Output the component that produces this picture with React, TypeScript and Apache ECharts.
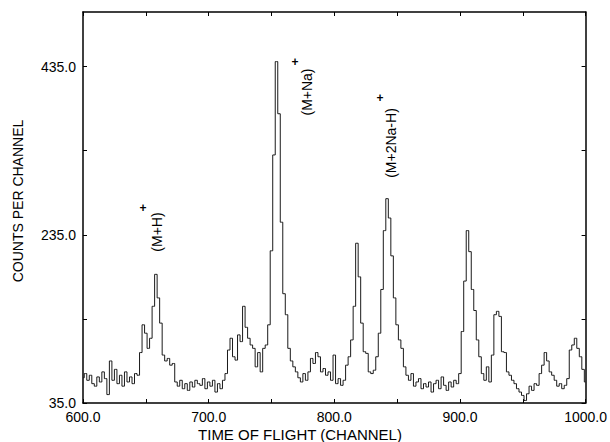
import React, { useEffect, useRef } from "react";
import * as echarts from "echarts";

// Time-of-flight channels, every 2nd channel from 600 to 1000
const START_CHANNEL = 600;
const CHANNEL_STEP = 2;
const counts: number[] = [
  65, 70, 62, 68, 58, 55, 66, 60, 72, 64,
  45, 85, 62, 75, 58, 68, 55, 72, 60, 66,
  58, 70, 68, 95, 128, 118, 100, 112, 150, 188,
  160, 130, 92, 85, 88, 80, 82, 60, 55, 62,
  52, 58, 50, 60, 54, 62, 58, 56, 64, 52,
  60, 55, 62, 48, 58, 52, 62, 70, 98, 112,
  90, 86, 116, 108, 150, 125, 112, 104, 100, 78,
  95, 72, 100, 104, 128, 216, 330, 441, 379, 250,
  165, 140, 100, 85, 78, 72, 65, 60, 70, 62,
  72, 88, 82, 95, 90, 72, 76, 68, 72, 62,
  92, 58, 64, 56, 62, 80, 90, 110, 150, 225,
  185, 130, 96, 94, 72, 70, 74, 90, 118, 170,
  240, 278, 255, 210, 160, 128, 110, 100, 78, 68,
  62, 70, 55, 60, 64, 52, 58, 54, 60, 48,
  58, 62, 52, 66, 56, 50, 60, 54, 62, 58,
  70, 120, 180, 240, 215, 170, 145, 110, 90, 70,
  62, 78, 60, 92, 140, 144, 138, 96, 95, 72,
  68, 62, 58, 52, 48, 44, 38, 46, 55, 50,
  58, 56, 70, 80, 95, 85, 72, 68, 62, 55,
  58, 52, 56, 64, 98, 104, 112, 100, 90, 75,
  60,
];

const yTickValues = [35, 135, 235, 335, 435];
const yLabelValues = [35, 235, 435];
const xMin = 600;
const xMax = 1000;
const xTickInterval = 50;
const yMin = 35;
const yMax = 500;

const xTitle = "TIME OF FLIGHT (CHANNEL)";
const yTitle = "COUNTS PER CHANNEL";
const peakLabels = ["(M+H)", "(M+Na)", "(M+2Na-H)"];

const FONT = "'Liberation Sans', Arial, Helvetica, sans-serif";

export default function App() {
  const ref = useRef<HTMLDivElement>(null);

  useEffect(() => {
    if (!ref.current) return;
    const chart = echarts.init(ref.current, undefined, { renderer: "svg" });
    const data = counts.map((c, i) => [START_CHANNEL + i * CHANNEL_STEP, c]);

    const axisLine = { show: true, lineStyle: { color: "#000", width: 1.5 } };
    const tick = { show: true, inside: true, length: 4, lineStyle: { color: "#000", width: 1 } };
    const label = { color: "#000", fontSize: 14, fontFamily: FONT };

    const xCommon = {
      type: "value" as const,
      min: xMin,
      max: xMax,
      interval: xTickInterval,
      axisLine,
      axisTick: tick,
      splitLine: { show: false },
    };
    const yCommon = {
      type: "value" as const,
      min: yMin,
      max: yMax,
      axisLine,
      axisTick: { ...tick, customValues: yTickValues },
      splitLine: { show: false },
    };

    const annText = (text: string, x: number, y: number) => ({
      type: "text",
      x,
      y,
      rotation: Math.PI / 2,
      style: {
        text,
        fill: "#000",
        font: `14px ${FONT}`,
        align: "center",
        verticalAlign: "middle",
      },
    });
    const plus = (x: number, y: number) => ({
      type: "text",
      x,
      y,
      style: {
        text: "+",
        fill: "#000",
        font: `bold 12px ${FONT}`,
        align: "center",
        verticalAlign: "middle",
      },
    });

    chart.setOption({
      animation: false,
      backgroundColor: "#fff",
      grid: { left: 83, right: 24, top: 12, bottom: 39, containLabel: false },
      xAxis: [
        {
          ...xCommon,
          position: "bottom",
          axisLabel: {
            ...label,
            margin: 7,
            formatter: (v: number) => (v % 100 === 0 ? v.toFixed(1) : ""),
          },
        },
        { ...xCommon, position: "top", axisLabel: { show: false } },
      ],
      yAxis: [
        {
          ...yCommon,
          position: "left",
          axisLabel: {
            ...label,
            margin: 7,
            customValues: yLabelValues,
            formatter: (v: number) => v.toFixed(1),
          },
        },
        { ...yCommon, position: "right", axisLabel: { show: false } },
      ],
      series: [
        {
          type: "line",
          xAxisIndex: 0,
          yAxisIndex: 0,
          step: "middle",
          data,
          symbol: "none",
          lineStyle: { color: "#1a1a1a", width: 1 },
        },
      ],
      graphic: [
        {
          type: "text",
          x: 300,
          y: 434,
          style: { text: xTitle, fill: "#000", font: `15px ${FONT}`, align: "center", verticalAlign: "middle" },
        },
        {
          type: "text",
          x: 18,
          y: 201,
          rotation: Math.PI / 2,
          style: { text: yTitle, fill: "#000", font: `14px ${FONT}`, align: "center", verticalAlign: "middle" },
        },
        plus(143, 208),
        annText(peakLabels[0], 157, 232),
        plus(295, 62),
        annText(peakLabels[1], 307, 92),
        plus(380, 98),
        annText(peakLabels[2], 391, 143),
      ],
    });

    return () => chart.dispose();
  }, []);

  return (
    <div
      ref={ref}
      style={{ position: "fixed", left: 0, top: 0, width: 610, height: 442, background: "#fff" }}
    />
  );
}
